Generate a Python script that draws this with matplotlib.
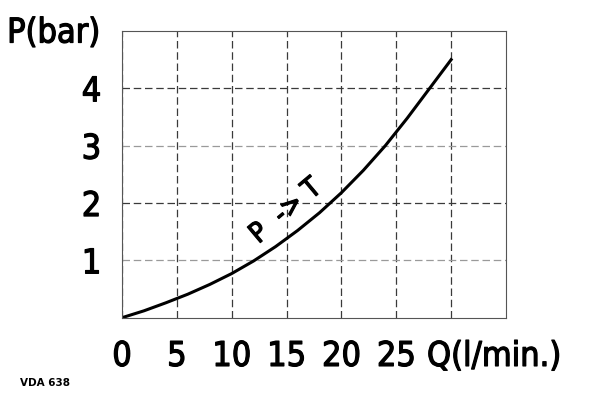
import matplotlib
matplotlib.use("Agg")
import matplotlib.pyplot as plt
import matplotlib.patheffects as pe

# flow Q (l/min) vs pressure drop P (bar)
flow = [0, 2, 4, 6, 8, 10, 12, 14, 16, 18, 20, 22, 24, 26, 28, 30]
pressure = [0, 0.12, 0.26, 0.41, 0.58, 0.77, 0.99, 1.24, 1.52, 1.83,
            2.18, 2.57, 3.0, 3.48, 3.99, 4.5]

x_ticks = [0, 5, 10, 15, 20, 25, 30]
x_labels = ["0", "5", "10", "15", "20", "25", ""]
y_ticks = [1, 2, 3, 4]
y_labels = ["1", "2", "3", "4"]

# slightly heavier than regular, lighter than bold
thick = [pe.withStroke(linewidth=0.9, foreground="black")]
font = dict(family="DejaVu Sans", stretch="condensed", path_effects=thick)

fig = plt.figure(figsize=(5.93, 4.0), dpi=100)
ax = fig.add_axes([122 / 593, 1 - 317.7 / 400, 384 / 593, 286.7 / 400])

ax.plot(flow, pressure, color="black", lw=2.2, solid_joinstyle="round")

ax.set_xlim(0, 35)
ax.set_ylim(0, 5)
ax.set_xticks(x_ticks)
ax.set_xticklabels(x_labels, fontsize=24.5, **font)
ax.set_yticks(y_ticks)
ax.set_yticklabels(y_labels, fontsize=24.5, **font)
ax.tick_params(axis="both", length=0)
ax.tick_params(axis="x", pad=16)
ax.tick_params(axis="y", pad=15)

ax.set_axisbelow(True)
ax.grid(True, linestyle=(0, (6, 3)), lw=0.9, color="#3a3a3a")
for val, gl in zip(y_ticks, ax.get_ygridlines()):
    if val in (1, 3):
        gl.set_color("#9a9a9a")

for sp in ax.spines.values():
    sp.set_color("#555555")
    sp.set_linewidth(0.8)

ax.text(14.9, 1.86, "P  -> T", rotation=40, ha="center", va="center",
        fontsize=20, rotation_mode="anchor", **font)

ax.annotate("Q(l/min.)", xy=(27.8, 0), xycoords=("data", "axes fraction"),
            xytext=(0, -16), textcoords="offset points", ha="left", va="top",
            fontsize=24.5, **font)

fig.text(100 / 593, 1 - 33 / 400, "P(bar)", ha="right", va="center",
         fontsize=24.5, **font)
fig.text(20 / 593, 1 - 383 / 400, "VDA 638", ha="left", va="center",
         fontsize=7.5, fontweight="bold")

fig.savefig("out.png", dpi=100)
